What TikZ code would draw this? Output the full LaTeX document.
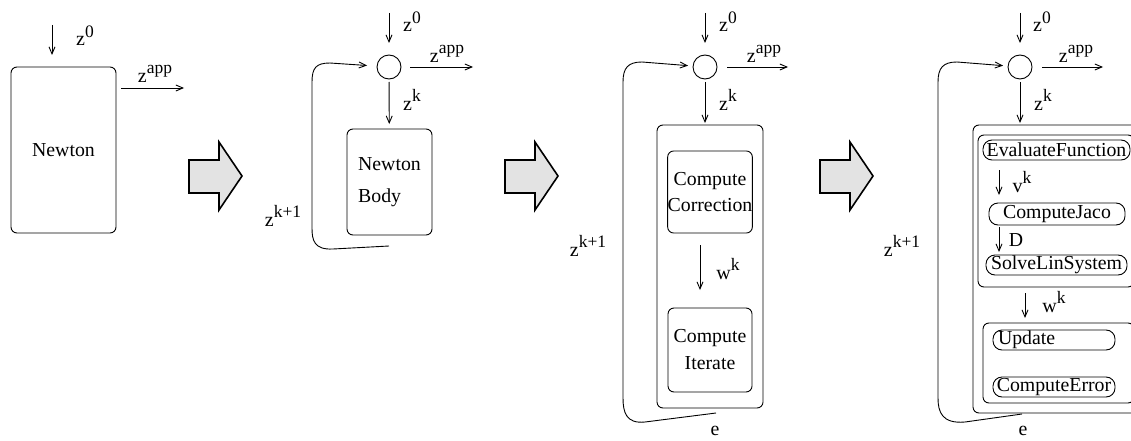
\documentclass[tikz,border=0pt]{standalone}
\usepackage{fontspec}
\setmainfont{Liberation Serif}
\usetikzlibrary{arrows.meta}
\tikzset{
  every node/.style={font=\fontsize{19.8}{24}\selectfont},
  blk/.style={draw, rounded corners=6pt, inner sep=0pt, outer sep=0pt},
  pill/.style={draw, rounded corners=9pt, inner sep=0pt, outer sep=0pt, minimum height=20pt},
  sum/.style={draw, circle, minimum size=24pt, inner sep=0pt, outer sep=0pt},
  flow/.style={-{Straight Barb[length=7pt,width=6pt]}},
  bigarrow/.style={fill=gray!22, draw, line width=1.6pt, line join=miter},
}
\newcommand{\zsup}[2]{{\fontsize{20}{23}\selectfont #1}\raisebox{0.42em}{\fontsize{17.5}{17.5}\selectfont #2}}
\begin{document}
\begin{tikzpicture}[x=1pt, y=-1pt, line width=0.9pt]
        \useasboundingbox (0,0) rectangle (1131,441);
        \clip (0,0) rectangle (1131,441);
        % first stage
        \node[blk, minimum width=105pt, minimum height=166pt] (newton) at (63.5,150) {Newton};
        \coordinate (in1) at (52,25);
        \coordinate (out1) at (184,88);
        \draw[flow, shorten >=12pt] (in1) -- (in1 |- newton.north);
        \draw[flow, shorten <=5pt] (newton.east |- out1) -- (out1);
        \node (z01) at (85,36) {\zsup{z}{0}};
        \node (zapp1) at (155,74) {\zsup{z}{app}};
        % refinement arrows
        \foreach \dx in {0,316,631}
            \draw[bigarrow, xshift=\dx] (189,160) -- (219,160) -- (219,142) -- (242,176) -- (219,210) -- (219,193) -- (189,193) -- cycle;
        % second stage
        \node[sum] (sum2) at (389,67) {};
        \coordinate (in2) at (389,13);
        \coordinate (out2) at (473,67);
        \coordinate (back2) at (389,246);
        \node[blk, minimum width=85pt, minimum height=106pt, align=left] (body2) at (389.5,182) {Newton\\[8pt]Body};
        \draw[flow, shorten >=12pt] (in2) -- (sum2);
        \draw[flow, shorten <=9pt] (sum2) -- (out2);
        \draw[flow, shorten <=3pt, shorten >=5pt] (sum2) -- (body2);
        \draw[flow, shorten >=10pt] (back2) -- (333,249) .. controls (314,250) and (312,240) .. (312,228) -- (312,82) .. controls (312,68) and (316,63) .. (330,63) -- (sum2);
        \node (z02) at (412,22) {\zsup{z}{0}};
        \node (zapp2) at (447,54) {\zsup{z}{app}};
        \node (zk2) at (412,100) {\zsup{z}{k}};
        \node (zkk2) at (283,216) {\zsup{z}{k+1}};
        % third stage
        \node[sum] (sum3) at (705,67) {};
        \coordinate (in3) at (705,13);
        \coordinate (out3) at (788,67);
        \coordinate (back3) at (716,413);
        \node[blk, minimum width=106pt, minimum height=283pt] (outer3) at (710,266.5) {};
        \node[blk, minimum width=84pt, minimum height=82pt, align=center] (corr) at (710,192) {Compute\\[2pt]Correction};
        \node[blk, minimum width=84pt, minimum height=84pt, align=center] (iter) at (710,350) {Compute\\[3pt]Iterate};
        \draw[flow, shorten >=12pt] (in3) -- (sum3);
        \draw[flow, shorten <=10pt] (sum3) -- (out3);
        \draw[flow, shorten <=3pt, shorten >=2pt] (sum3) -- (sum3 |- outer3.north);
        \draw[flow, shorten <=12pt, shorten >=18pt] ([xshift=-10pt]corr.south) -- ([xshift=-10pt]iter.north);
        \draw[flow, shorten >=5pt] (back3) -- (645,422) .. controls (626,424) and (623,412) .. (623,398) -- (623,82) .. controls (623,68) and (628,62) .. (642,62) -- (sum3);
        \node (z03) at (728,22) {\zsup{z}{0}};
        \node (zapp3) at (764,54) {\zsup{z}{app}};
        \node (zk3) at (728,100) {\zsup{z}{k}};
        \node (wk3) at (728,269) {\zsup{w}{k}};
        \node (zkk3) at (588,246) {\zsup{z}{k+1}};
        \node (e3) at (715,431) {e};
        % fourth stage
        \node[sum] (sum4) at (1020,67) {};
        \coordinate (in4) at (1020,13);
        \coordinate (out4) at (1103,67);
        \coordinate (back4) at (1022,414);
        \coordinate (col4) at (999,0);
        \coordinate (mid4) at (1025,0);
        \node[blk, minimum width=167pt, minimum height=288pt] (outer4) at (1056.5,269) {};
        \node[blk, minimum width=156pt, minimum height=152pt] (grp1) at (1056,211) {};
        \node[pill, minimum width=147pt] (eval) at (1056.5,150) {EvaluateFunction};
        \node[pill, minimum width=136pt, minimum height=22pt] (jaco) at (1057,214) {ComputeJaco};
        \node[pill, minimum width=141pt] (solve) at (1056.5,265) {SolveLinSystem};
        \node[blk, minimum width=151pt, minimum height=80pt] (grp2) at (1058.5,363) {};
        \node[pill, minimum width=122pt, text width=112pt, align=left] (update) at (1054,340) {Update};
        \node[pill, minimum width=122pt] (error) at (1054,387) {ComputeError};
        \draw[flow, shorten >=12pt] (in4) -- (sum4);
        \draw[flow, shorten <=10pt] (sum4) -- (out4);
        \draw[flow, shorten <=3pt, shorten >=2pt] (sum4) -- (sum4 |- outer4.north);
        \draw[flow, shorten <=10pt, shorten >=8pt] (eval.south -| col4) -- (jaco.north -| col4);
        \draw[flow, shorten <=2pt, shorten >=3pt] (jaco.south -| col4) -- (solve.north -| col4);
        \draw[flow, shorten <=6pt, shorten >=5pt] (grp1.south -| mid4) -- (grp2.north -| mid4);
        \draw[flow, shorten >=5pt] (back4) -- (965,422) .. controls (942,424) and (938,412) .. (938,398) -- (938,82) .. controls (938,68) and (943,62) .. (957,62) -- (sum4);
        \node (z04) at (1042,22) {\zsup{z}{0}};
        \node (zapp4) at (1076,54) {\zsup{z}{app}};
        \node (zk4) at (1043,100) {\zsup{z}{k}};
        \node (vk4) at (1022,182) {\zsup{v}{k}};
        \node (d4) at (1016,240) {D};
        \node (wk4) at (1054,302) {\zsup{w}{k}};
        \node (zkk4) at (902,246) {\zsup{z}{k+1}};
        \node (e4) at (1023,431) {e};
\end{tikzpicture}
\end{document}
